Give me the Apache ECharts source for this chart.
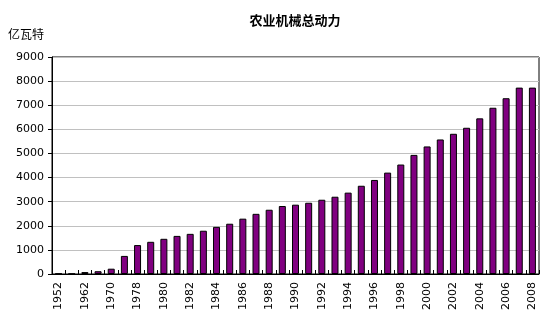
<!DOCTYPE html>
<html><head><meta charset="utf-8">
<script src="https://cdn.jsdelivr.net/npm/echarts@6/dist/echarts.min.js"></script>
<style>html,body{margin:0;padding:0;background:#fff}#c{width:553px;height:328px}</style>
</head><body><div id="c"></div>
<script>
var categories = ['1952','1957','1962','1965','1970','1975','1978','1979','1980','1981','1982','1983','1984','1985','1986','1987','1988','1989','1990','1991','1992','1993','1994','1995','1996','1997','1998','1999','2000','2001','2002','2003','2004','2005','2006','2007','2008'];
var values = [18,12,80,115,220,750,1200,1335,1460,1580,1665,1795,1955,2085,2295,2495,2665,2820,2875,2955,3080,3205,3375,3660,3900,4205,4540,4940,5290,5580,5815,6065,6455,6895,7290,7730,7730];
var yTicks = {min:0, max:9000, interval:1000};
var title = '农业机械总动力';
var unit = '亿瓦特';

var chart = echarts.init(document.getElementById('c'), null, {renderer:'canvas'});
chart.setOption({
  animation:false,
  title:{text:title, left:290, top:9, textAlign:'center',
    textStyle:{fontFamily:'Noto Sans CJK SC', fontSize:13, fontWeight:'bold', color:'#000'}},
  graphic:[{type:'text', left:8, top:28, style:{text:unit, font:'12px "Noto Sans CJK SC"', fill:'#000'}}],
  grid:{left:52, right:14, top:57, bottom:54, show:true, borderColor:'#000', borderWidth:1, containLabel:false},
  xAxis:{type:'category', data:categories, boundaryGap:true,
    axisLine:{lineStyle:{color:'#000', width:1}},
    axisTick:{show:true, inside:true, length:4, interval:0, alignWithLabel:false, lineStyle:{color:'#000'}},
    axisLabel:{interval:1, rotate:90, margin:8, fontFamily:'DejaVu Sans', fontSize:11, color:'#000'}},
  yAxis:{type:'value', min:yTicks.min, max:yTicks.max, interval:yTicks.interval,
    axisLine:{show:true, lineStyle:{color:'#000', width:1}},
    axisTick:{show:true, length:4, lineStyle:{color:'#000'}},
    splitLine:{lineStyle:{color:'#c0c0c0', width:1}},
    axisLabel:{margin:8, fontFamily:'DejaVu Sans', fontSize:11, color:'#000', formatter:function(v){return String(v);}}},
  series:[{type:'bar', data:values, barWidth:7,
    itemStyle:{color:'#800080', borderColor:'#000', borderWidth:1}}]
});
</script></body></html>
